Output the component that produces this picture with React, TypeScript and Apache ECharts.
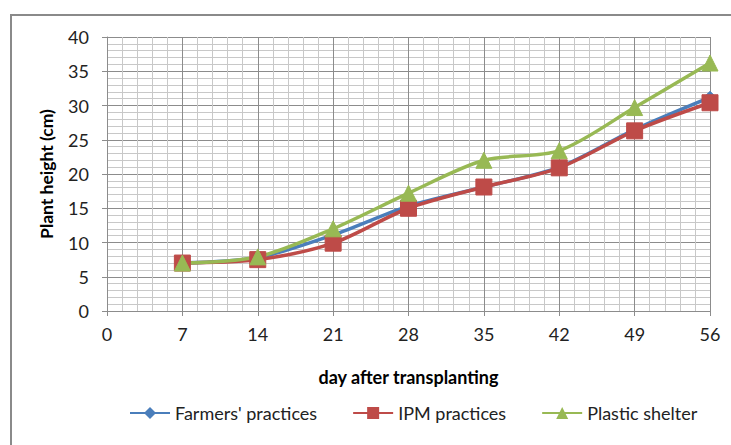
import React, { useEffect, useRef } from "react";
import * as echarts from "echarts";

const days = [7, 14, 21, 28, 35, 42, 49, 56];
const farmers = [7.0, 7.8, 11.1, 15.3, 18.1, 21.0, 26.5, 31.2];
const ipm = [7.0, 7.5, 9.9, 15.0, 18.1, 20.9, 26.3, 30.4];
const plastic = [7.0, 7.9, 12.0, 17.2, 22.0, 23.4, 29.7, 36.2];
const seriesNames = ["Farmers' practices", "IPM practices", "Plastic shelter"];
const FONT = "Lato, 'Open Sans', sans-serif";

export default function App() {
  const ref = useRef<HTMLDivElement>(null);
  useEffect(() => {
    const chart = echarts.init(ref.current!, undefined, { renderer: "svg" });
    const mk = (name: string, vals: number[], color: string, symbol: string, size: number) => ({
      name,
      type: "line",
      data: days.map((d, i) => [d, vals[i]]),
      smooth: 0.3,
      symbol,
      symbolSize: size,
      showAllSymbol: true,
      lineStyle: { color, width: 3.5 },
      itemStyle: { color, borderColor: color },
    });
    chart.setOption({
      animation: false,
      backgroundColor: "#ffffff",
      grid: { left: 107, right: 21, top: 37, bottom: 134 },
      graphic: [
        {
          type: "rect",
          shape: { x: 11, y: 15, width: 760, height: 500 },
          style: { fill: "none", stroke: "#8a8a8a", lineWidth: 2 },
          z: 100,
        },
      ],
      xAxis: {
        type: "value",
        min: 0,
        max: 56,
        interval: 7,
        name: "day after transplanting",
        nameLocation: "middle",
        nameGap: 57,
        nameTextStyle: { fontFamily: FONT, fontWeight: "bold", fontSize: 18, color: "#000", verticalAlign: "top" },
        axisLine: { show: true, lineStyle: { color: "#8c8c8c", width: 1 } },
        axisTick: { show: true, length: 5, lineStyle: { color: "#8c8c8c" } },
        axisLabel: { fontFamily: FONT, fontSize: 18, color: "#222", margin: 14 },
        splitLine: { show: true, lineStyle: { color: "#8c8c8c", width: 1 } },
        minorTick: { show: false, splitNumber: 5 },
        minorSplitLine: { show: true, lineStyle: { color: "#c8c8c8", width: 1 } },
      },
      yAxis: {
        type: "value",
        min: 0,
        max: 40,
        interval: 5,
        name: "Plant height (cm)",
        nameLocation: "middle",
        nameGap: 52,
        nameTextStyle: { fontFamily: FONT, fontWeight: "bold", fontSize: 17.5, color: "#000" },
        axisLine: { show: true, lineStyle: { color: "#8c8c8c", width: 1 } },
        axisTick: { show: true, length: 5, lineStyle: { color: "#8c8c8c" } },
        axisLabel: { fontFamily: FONT, fontSize: 18, color: "#222", margin: 18 },
        splitLine: { show: true, lineStyle: { color: "#8c8c8c", width: 1 } },
        minorTick: { show: false, splitNumber: 5 },
        minorSplitLine: { show: true, lineStyle: { color: "#c8c8c8", width: 1 } },
      },
      legend: {
        left: 124,
        top: 399,
        itemWidth: 40,
        itemHeight: 15,
        itemGap: 35,
        textStyle: { fontFamily: FONT, fontSize: 18, color: "#222" },
        data: seriesNames,
      },
      series: [
        mk(seriesNames[0], farmers, "#4A7EBB", "diamond", 12),
        mk(seriesNames[1], ipm, "#BE4B48", "rect", 16),
        mk(seriesNames[2], plastic, "#98B954", "triangle", 16),
      ],
    });
    return () => chart.dispose();
  }, []);
  return (
    <div
      ref={ref}
      style={{ position: "fixed", left: 0, top: 0, width: 731, height: 445 }}
    />
  );
}
